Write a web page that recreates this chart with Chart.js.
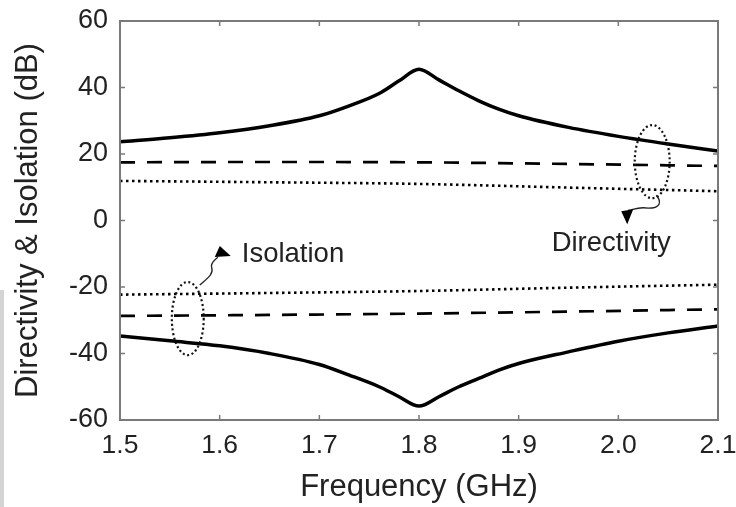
<!DOCTYPE html>
<html>
<head>
<meta charset="utf-8">
<script src="https://cdn.jsdelivr.net/npm/chart.js@4.4.1/dist/chart.umd.min.js"></script>
<style>
  html, body { margin: 0; padding: 0; background: #fff; }
  #wrap { position: relative; width: 736px; height: 507px; }
  #strip { position: absolute; left: 0; top: 290px; width: 4px; height: 217px; background: #d4d4d4; }
</style>
</head>
<body>
<div id="wrap">
  <canvas id="c" width="736" height="507"></canvas>
  <div id="strip"></div>
</div>
<script>
// ---- data ----
const freqSolid = [1.5, 1.55, 1.6, 1.65, 1.7, 1.73, 1.76, 1.78, 1.8, 1.82, 1.84, 1.86, 1.88, 1.9, 1.95, 2.0, 2.05, 2.1];
const directivitySolid = [23.7, 24.9, 26.4, 28.5, 31.5, 34.5, 38.2, 42.0, 45.5, 42.3, 39.0, 36.0, 33.5, 31.5, 28.0, 25.3, 23.0, 20.9];
const isolationSolid = [-34.7, -36.2, -37.7, -40.0, -43.3, -46.5, -50.0, -53.0, -55.8, -53.0, -50.0, -47.5, -45.0, -43.0, -39.5, -36.3, -33.8, -31.7];

const freqFlat = [1.5, 1.65, 1.8, 1.95, 2.1];
const directivityDashed = [17.5, 17.6, 17.5, 17.0, 16.4];
const directivityDotted = [11.9, 11.5, 11.0, 9.9, 8.8];
const isolationDashed = [-28.7, -28.4, -28.0, -27.4, -26.7];
const isolationDotted = [-22.3, -21.8, -21.2, -20.2, -19.3];

const xTicks = [1.5, 1.6, 1.7, 1.8, 1.9, 2.0, 2.1];
const yTicks = [-60, -40, -20, 0, 20, 40, 60];

// annotation ellipses: [centerFreq, centerDb, radiusFreq, radiusDb]
const isolationEllipse = [1.568, -29.5, 0.016, 11.0];
const directivityEllipse = [2.034, 17.7, 0.0175, 11.0];

const pts = (xs, ys) => xs.map((x, i) => ({ x: x, y: ys[i] }));

const FONT = '"Liberation Sans", Arial, Helvetica, sans-serif';

function ds(data, style) {
  const base = { data: data, borderColor: '#000', pointRadius: 0, fill: false, cubicInterpolationMode: 'monotone' };
  return Object.assign(base, style);
}

const solid = { borderWidth: 3.5 };
const dashed = { borderWidth: 2.7, borderDash: [15, 12] };
const dotted = { borderWidth: 2.6, borderDash: [2.5, 3.5] };

const framePlugin = {
  id: 'frame',
  afterDraw(chart) {
    const ctx = chart.ctx, a = chart.chartArea;
    const xs = chart.scales.x, ys = chart.scales.y;
    ctx.save();
    ctx.strokeStyle = '#7a7a7a';
    ctx.lineWidth = 2;
    ctx.strokeRect(a.left, a.top, a.right - a.left, a.bottom - a.top);
    ctx.lineWidth = 1.5;
    ctx.beginPath();
    xTicks.forEach(v => {
      const p = xs.getPixelForValue(v);
      ctx.moveTo(p, a.bottom); ctx.lineTo(p, a.bottom - 5);
      ctx.moveTo(p, a.top); ctx.lineTo(p, a.top + 5);
    });
    yTicks.forEach(v => {
      const p = ys.getPixelForValue(v);
      ctx.moveTo(a.left, p); ctx.lineTo(a.left + 5, p);
      ctx.moveTo(a.right, p); ctx.lineTo(a.right - 5, p);
    });
    ctx.stroke();

    // ellipses
    ctx.strokeStyle = '#111';
    ctx.lineWidth = 2.2;
    ctx.setLineDash([2, 2.6]);
    [isolationEllipse, directivityEllipse].forEach(e => {
      const cx = xs.getPixelForValue(e[0]);
      const cy = ys.getPixelForValue(e[1]);
      const rx = Math.abs(xs.getPixelForValue(e[0] + e[2]) - cx);
      const ry = Math.abs(ys.getPixelForValue(e[1] + e[3]) - cy);
      ctx.beginPath();
      ctx.ellipse(cx, cy, rx, ry, 0, 0, Math.PI * 2);
      ctx.stroke();
    });
    ctx.setLineDash([]);

    // isolation callout
    const ix = xs.getPixelForValue(isolationEllipse[0]);
    const iy = ys.getPixelForValue(isolationEllipse[1] + isolationEllipse[3]);
    ctx.lineWidth = 1.3;
    ctx.strokeStyle = '#222';
    ctx.beginPath();
    ctx.moveTo(ix + 12, iy + 3);
    ctx.bezierCurveTo(ix + 20, iy - 4, ix + 26, iy - 8, ix + 24, iy - 14);
    ctx.bezierCurveTo(ix + 22, iy - 20, ix + 28, iy - 22, ix + 30, iy - 25);
    ctx.stroke();
    ctx.fillStyle = '#000';
    ctx.beginPath();
    ctx.moveTo(ix + 27, iy - 25);
    ctx.lineTo(ix + 43, iy - 26);
    ctx.lineTo(ix + 32, iy - 36);
    ctx.closePath();
    ctx.fill();

    // directivity callout
    const dx = xs.getPixelForValue(directivityEllipse[0]);
    const dy = ys.getPixelForValue(directivityEllipse[1] - directivityEllipse[3]);
    ctx.beginPath();
    ctx.moveTo(dx + 4, dy - 3);
    ctx.bezierCurveTo(dx + 10, dy + 4, dx + 8, dy + 10, dx - 4, dy + 10);
    ctx.bezierCurveTo(dx - 14, dy + 8, dx - 20, dy + 12, dx - 24, dy + 12);
    ctx.stroke();
    ctx.beginPath();
    ctx.moveTo(dx - 31, dy + 13);
    ctx.lineTo(dx - 19, dy + 11);
    ctx.lineTo(dx - 25, dy + 26);
    ctx.closePath();
    ctx.fill();

    ctx.fillStyle = '#222';
    ctx.font = '27.5px ' + FONT;
    ctx.textBaseline = 'alphabetic';
    ctx.textAlign = 'left';
    ctx.fillText('Isolation', ix + 54, iy - 20);
    ctx.textAlign = 'center';
    ctx.fillText('Directivity', dx - 41, dy + 53);
    ctx.restore();
  }
};

new Chart(document.getElementById('c'), {
  type: 'line',
  data: {
    datasets: [
      ds(pts(freqSolid, directivitySolid), solid),
      ds(pts(freqFlat, directivityDashed), dashed),
      ds(pts(freqFlat, directivityDotted), dotted),
      ds(pts(freqFlat, isolationDotted), dotted),
      ds(pts(freqFlat, isolationDashed), dashed),
      ds(pts(freqSolid, isolationSolid), solid)
    ]
  },
  options: {
    responsive: false,
    animation: false,
    events: [],
    layout: { padding: { left: 0, top: 21, right: 18, bottom: 0 } },
    plugins: { legend: { display: false }, tooltip: { enabled: false } },
    scales: {
      x: {
        type: 'linear', min: 1.5, max: 2.1,
        afterBuildTicks: s => { s.ticks = xTicks.map(v => ({ value: v })); },
        afterFit: s => { s.height = 87; s.paddingLeft = 0; s.paddingRight = 0; },
        grid: { display: false, drawTicks: false },
        border: { display: false },
        ticks: { color: '#222', padding: 10, maxRotation: 0, autoSkip: false,
          font: { family: FONT, size: 26.5 },
          callback: v => v.toFixed(1) },
        title: { display: true, text: 'Frequency (GHz)', color: '#222',
          font: { family: FONT, size: 31 }, padding: { top: 0, bottom: 1 } }
      },
      y: {
        type: 'linear', min: -60, max: 60,
        afterBuildTicks: s => { s.ticks = yTicks.map(v => ({ value: v })); },
        afterFit: s => { s.width = 120; s.paddingTop = 0; s.paddingBottom = 0; },
        grid: { display: false, drawTicks: false },
        border: { display: false },
        ticks: { color: '#222', padding: 12, autoSkip: false,
          font: { family: FONT, size: 27 } },
        title: { display: true, text: 'Directivity & Isolation (dB)', color: '#222',
          font: { family: FONT, size: 31 }, padding: { top: 10, bottom: 0 } }
      }
    }
  },
  plugins: [framePlugin]
});
</script>
</body>
</html>
